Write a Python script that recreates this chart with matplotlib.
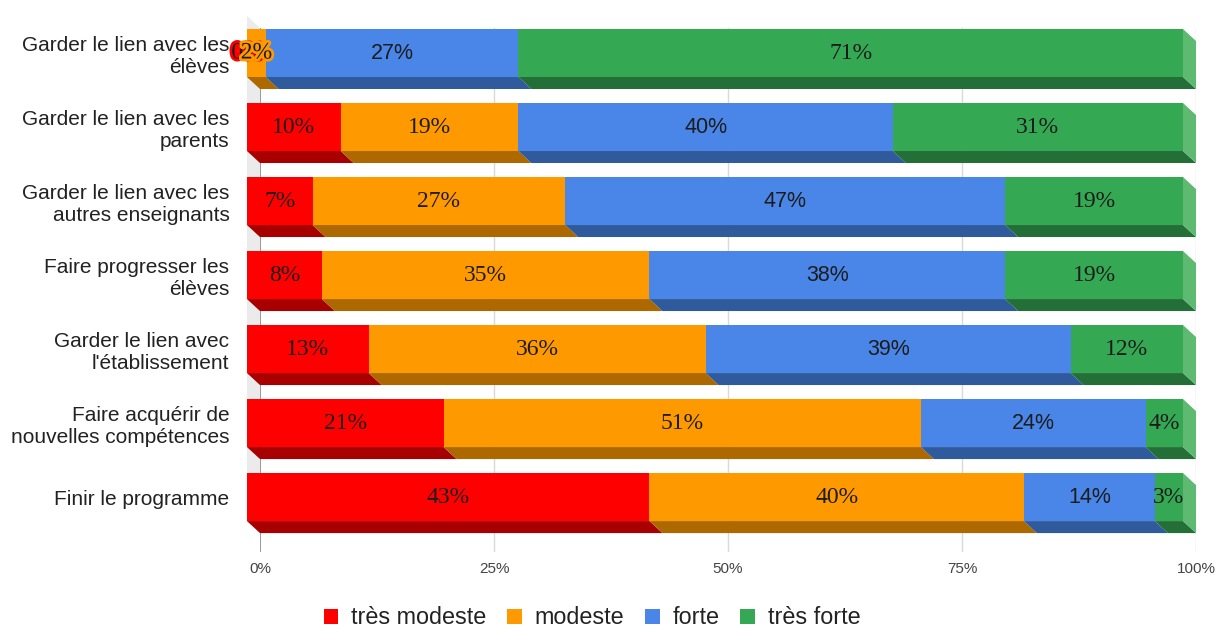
import matplotlib.pyplot as plt
import matplotlib.patheffects as pe
from matplotlib.patches import Polygon, Rectangle
import numpy as np

categories = ["Garder le lien avec les\nélèves",
              "Garder le lien avec les\nparents",
              "Garder le lien avec les\nautres enseignants",
              "Faire progresser les\nélèves",
              "Garder le lien avec\nl'établissement",
              "Faire acquérir de\nnouvelles compétences",
              "Finir le programme"]
series = ["très modeste", "modeste", "forte", "très forte"]
tres_modeste = [0, 10, 7, 8, 13, 21, 43]
modeste = [2, 19, 27, 35, 36, 51, 40]
forte = [27, 40, 47, 38, 39, 24, 14]
tres_forte = [71, 31, 19, 19, 12, 4, 3]
xticks = [0, 25, 50, 75, 100]

face = ['#ff0000', '#ff9900', '#4a86e8', '#34a853']
dark = ['#a80000', '#ad6800', '#2f5a9c', '#236f37']
side = ['#ff5050', '#ffb84d', '#7aa7f0', '#5dba70']
label_font = ['Liberation Serif', 'Liberation Serif', 'Liberation Sans', 'Liberation Serif']
label_size = [17, 17, 15.5, 17]

W, H = 1217, 628
fig = plt.figure(figsize=(W / 100, H / 100), dpi=100)
ax = fig.add_axes([260 / W, 1 - 552 / H, 936 / W, 524 / H])
ax.set_xlim(0, 100)
ax.set_ylim(6.58, -0.5)

# 3d depth in data units
px_x = 100 / 936
px_y = 7.08 / 524
dx = 13 * px_x
dy = 12 * px_y
h = 48 * px_y

rows = np.arange(len(categories))

# grid
for x in xticks[1:]:
    ax.axvline(x, color='#d9d9d9', lw=1, zorder=0)
ax.axvline(0, color='#888888', lw=1.2, zorder=0)

# left wall
yb_front = rows[-1] - dy + h / 2
wall = Polygon([(-dx, -0.5 - dy), (0, -0.5), (0, yb_front + dy), (-dx, yb_front)],
               closed=True, facecolor='#ebebeb', edgecolor='none', zorder=1, clip_on=False)
ax.add_patch(wall)

data = np.array([tres_modeste, modeste, forte, tres_forte], dtype=float)
lefts = np.vstack([np.zeros(len(rows)), np.cumsum(data, axis=0)[:-1]])

for r in rows:
    yt = r - dy - h / 2
    yb = r - dy + h / 2
    last = max(i for i in range(4) if data[i, r] > 0)
    for i in range(4):
        w = data[i, r]
        l = lefts[i, r]
        if w > 0:
            ax.add_patch(Polygon([(l - dx, yb), (l + w - dx, yb), (l + w, yb + dy), (l, yb + dy)],
                                 closed=True, facecolor=dark[i], edgecolor='none', zorder=2,
                                 clip_on=False))
            ax.add_patch(Rectangle((l - dx, yt), w, h, facecolor=face[i], edgecolor='none',
                                   zorder=3, clip_on=False))
            if i == last:
                ax.add_patch(Polygon([(l + w - dx, yt), (l + w, yt + dy), (l + w, yb + dy),
                                      (l + w - dx, yb)], closed=True, facecolor=side[i],
                                     edgecolor='none', zorder=2, clip_on=False))
    for i in range(4):
        w = data[i, r]
        l = lefts[i, r]
        effects = None
        if w < 3:
            # label wider than its bar: halo in the bar colour
            effects = [pe.withStroke(linewidth=4, foreground=face[i])]
        ax.text(l + w / 2 - dx, r - dy, '%d%%' % w, ha='center', va='center',
                family=label_font[i], fontsize=label_size[i], color='#1c1c1c',
                zorder=5, path_effects=effects, clip_on=False)

for s in ax.spines.values():
    s.set_visible(False)
ax.set_xticks(xticks)
ax.set_xticklabels(['%d%%' % x for x in xticks], family='Liberation Sans', fontsize=11,
                   color='#444444')
ax.set_yticks(rows - dy)
ax.set_yticklabels(categories, family='Liberation Sans', fontsize=15, color='#222222')
ax.tick_params(axis='x', length=0, pad=7)
ax.tick_params(axis='y', length=0, pad=22)

handles = [Rectangle((0, 0), 1, 1, facecolor=c) for c in face]
fig.legend(handles, series, loc='center', bbox_to_anchor=(592 / W, 1 - 618 / H), ncol=4,
           frameon=False, prop={'family': 'Liberation Sans', 'size': 16.8},
           handlelength=0.62, handleheight=0.62, handletextpad=0.55, columnspacing=0.9,
           labelcolor='#222222')

fig.savefig('out.png', dpi=100)
